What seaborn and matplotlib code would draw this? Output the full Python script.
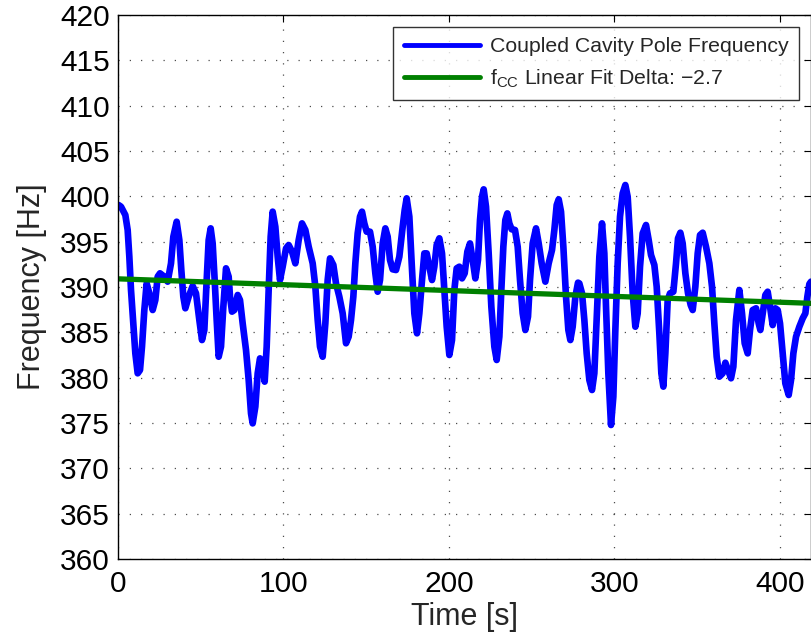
import matplotlib
matplotlib.use("Agg")
import matplotlib.pyplot as plt
import seaborn as sns
import pandas as pd

# Data (time in s, frequency in Hz)
time_s = [0.40, 1.81, 4.43, 5.84, 6.85, 7.86, 9.27, 10.48, 11.89, 13.30, 14.50, 15.91,
          17.32, 18.94, 20.95, 22.56, 23.97, 25.38, 28.00, 30.01, 32.03, 33.44, 35.45,
          37.07, 38.27, 39.48, 40.69, 42.71, 45.12, 47.14, 49.15, 50.76, 52.18, 53.59,
          54.79, 56.00, 57.21, 58.42, 59.63, 60.84, 62.25, 63.66, 65.27, 66.88, 67.69,
          68.89, 70.30, 72.32, 73.73, 75.34, 77.36, 78.97, 80.38, 81.39, 83.00, 84.41,
          85.82, 87.43, 88.64, 89.85, 91.05, 92.26, 93.47, 95.08, 96.50, 97.90, 99.52,
          101.53, 103.14, 105.16, 107.17, 109.19, 111.20, 113.22, 115.23, 117.65, 119.26,
          120.67, 122.08, 123.69, 125.30, 126.71, 128.12, 130.14, 131.75, 133.76, 135.78,
          137.79, 139.40, 140.81, 142.22, 143.43, 144.84, 146.25, 147.46, 148.87, 150.28,
          152.29, 153.91, 155.52, 156.93, 158.34, 159.95, 161.56, 162.97, 164.38, 165.99,
          168.01, 170.02, 172.04, 173.25, 174.45, 176.07, 177.48, 179.09, 180.70, 182.11,
          183.72, 185.13, 186.54, 188.15, 189.76, 191.17, 192.58, 194.20, 195.81, 197.22,
          198.63, 200.24, 201.85, 203.26, 204.67, 206.28, 207.90, 209.51, 211.12, 212.73,
          214.34, 215.95, 217.56, 218.77, 219.98, 220.99, 222.40, 224.01, 225.62, 227.44,
          228.85, 230.46, 231.66, 232.87, 234.08, 235.29, 236.50, 237.91, 239.92, 241.54,
          242.95, 244.56, 246.17, 247.78, 248.99, 250.60, 252.62, 254.23, 256.04, 258.26,
          260.27, 262.29, 263.70, 265.11, 266.32, 267.73, 269.14, 270.75, 272.16, 273.37,
          274.78, 276.39, 278.00, 278.80, 280.42, 281.83, 283.24, 284.85, 286.46, 287.87,
          289.28, 290.89, 292.50, 293.91, 294.92, 296.33, 297.94, 299.35, 300.56, 301.97,
          303.38, 304.99, 306.60, 308.01, 309.42, 311.04, 312.65, 314.06, 315.47, 317.08,
          319.10, 320.71, 322.12, 324.13, 325.54, 327.15, 328.36, 329.57, 330.78, 332.19,
          333.60, 335.62, 337.23, 338.43, 339.84, 341.25, 342.87, 344.48, 346.09, 347.30,
          348.91, 350.32, 351.73, 353.34, 355.36, 357.37, 358.98, 360.39, 361.80, 363.41,
          365.43, 367.04, 368.65, 370.46, 371.87, 373.48, 375.50, 377.11, 378.72, 380.53,
          381.95, 383.56, 385.57, 387.18, 388.19, 389.60, 391.22, 392.63, 394.04, 395.64,
          397.26, 398.67, 400.08, 401.69, 403.30, 405.32, 406.73, 408.14, 409.75, 411.76,
          413.78, 415.39, 416.60, 417.81, 418.81]
freq_hz = [399.04, 398.86, 397.94, 396.29, 393.34, 389.67, 385.99, 382.68, 380.48, 380.84, 383.42, 387.46,
           390.40, 389.30, 387.46, 388.56, 391.14, 391.51, 391.14, 390.59, 392.61, 395.55, 397.20,
           395.18, 391.87, 388.93, 387.65, 388.93, 390.11, 389.30, 386.36, 384.15, 385.26, 390.77,
           395.18, 396.47, 394.81, 390.77, 386.36, 382.31, 383.42, 387.83, 392.06, 391.14, 388.93,
           387.28, 387.46, 389.12, 388.56, 385.99, 383.05, 379.74, 376.06, 374.96, 376.80, 380.48,
           382.13, 381.21, 379.56, 383.42, 389.67, 395.55, 398.31, 396.65, 393.34, 390.77, 392.24,
           394.26, 394.63, 393.90, 392.61, 395.18, 397.02, 396.29, 394.45, 392.61, 390.04,
           386.36, 383.42, 382.31, 385.99, 390.77, 393.16, 392.43, 390.40, 388.93, 387.09,
           383.79, 384.52, 386.36, 388.93, 392.61, 395.92, 397.76, 398.31, 397.02, 396.10,
           396.10, 394.45, 391.51, 389.48, 390.77, 394.81, 396.47, 395.55, 392.98, 391.95,
           391.87, 393.34, 396.65, 398.49, 399.78, 397.76, 392.61, 387.09, 384.89, 387.09,
           390.77, 393.71, 393.71, 392.24, 390.77, 392.24, 394.63, 395.37, 393.71, 389.67,
           385.62, 382.50, 384.15, 389.67, 392.06, 392.24, 390.95, 391.51, 393.90, 394.81,
           392.98, 390.95, 392.98, 397.39, 399.96, 400.77, 398.86, 393.71, 387.83, 383.42,
           381.95, 384.52, 389.67, 394.45, 397.39, 398.12, 397.02, 396.36, 396.29, 394.45,
           390.77, 387.09, 385.26, 386.73, 390.77, 394.81, 396.47, 394.81, 392.61, 390.59,
           392.61, 394.08, 396.29, 399.04, 399.67, 398.31, 394.45, 388.93, 385.26, 384.15,
           385.62, 388.93, 390.48, 390.40, 389.30, 386.36, 382.68, 379.74, 378.64, 380.48,
           386.36, 393.34, 397.02, 393.71, 387.83, 380.48, 374.78, 377.90, 385.26, 392.61,
           397.76, 400.33, 401.25, 399.96, 395.55, 389.30, 385.62, 387.09, 392.24, 395.92,
           396.84, 395.18, 393.53, 392.43, 390.04, 384.89, 380.48, 379.01, 382.68, 388.56,
           389.30, 389.48, 392.61, 395.37, 395.99, 394.81, 391.51, 389.30, 388.01, 387.46,
           390.04, 393.71, 395.73, 395.99, 394.45, 392.61, 390.04, 385.99, 382.31, 380.11,
           380.48, 381.65, 380.84, 379.93, 381.21, 386.36, 389.67, 387.09, 383.79, 382.68,
           385.26, 387.46, 387.65, 385.99, 385.26, 387.09, 389.12, 389.48, 387.83, 385.80,
           387.65, 387.46, 385.99, 382.68, 379.37, 378.09, 379.74, 382.68, 384.52, 385.62,
           386.54, 387.09, 388.93, 390.33, 390.59]
fit_time = [0.0, 418.8]
fit_freq = [390.9, 388.2]

x_ticks = [0, 100, 200, 300, 400]
y_ticks = list(range(360, 421, 5))

label_main = "Coupled Cavity Pole Frequency"
label_fit = "f$_\\mathregular{CC}$ Linear Fit Delta: \u22122.7"

sns.set_style("white")
plt.rcParams['font.family'] = ['Liberation Sans', 'DejaVu Sans']
plt.rcParams['mathtext.fontset'] = 'custom'
plt.rcParams['mathtext.rm'] = 'Liberation Sans'

df = pd.DataFrame({"t": time_s, "f": freq_hz})
df_fit = pd.DataFrame({"t": fit_time, "f": fit_freq})

fig = plt.figure(figsize=(8.12, 6.42), dpi=100)
ax = fig.add_axes([118/812, 1 - 559/642, (811-118)/812, (559-15)/642])

sns.lineplot(data=df, x="t", y="f", ax=ax, color="#0000ff", linewidth=4.8,
             label=label_main, solid_joinstyle="round", solid_capstyle="round")
sns.lineplot(data=df_fit, x="t", y="f", ax=ax, color="#008000", linewidth=3.8,
             label=label_fit)

ax.set_xlim(0, 418.8)
ax.set_ylim(360, 420)
ax.set_xticks(x_ticks)
ax.set_yticks(y_ticks)
ax.grid(True, linestyle=(0, (1, 8)), color="black", linewidth=0.9, alpha=0.7)
ax.tick_params(direction="in", length=5, width=0.8, top=True, right=True,
               labelsize=21.5, colors="black")
ax.tick_params(axis="x", pad=8)
ax.tick_params(axis="y", pad=6)
for s in ax.spines.values():
    s.set_color("black")
    s.set_linewidth(1.0)
ax.set_xlabel("Time [s]", fontsize=22, labelpad=3)
ax.set_ylabel("Frequency [Hz]", fontsize=22, labelpad=9)

leg = ax.legend(loc="upper right", fontsize=15.3, frameon=True, fancybox=False,
                handlelength=3.6, borderaxespad=0.55, borderpad=0.5,
                labelspacing=0.5, handletextpad=0.45)
leg.get_frame().set_edgecolor("black")
leg.get_frame().set_linewidth(1.0)
for line in leg.get_lines():
    line.set_linewidth(3.5)

fig.savefig("out.png", dpi=100)
